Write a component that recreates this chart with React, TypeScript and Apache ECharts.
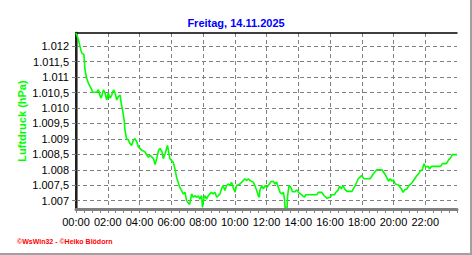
import React, { useEffect, useRef } from 'react';
import * as echarts from 'echarts';

const TITLE = 'Freitag, 14.11.2025';
const Y_NAME = 'Luftdruck (hPa)';
const FOOTER = '©WsWin32 - ©Heiko Blödorn';

// time of day in minutes
const timesMin = [
  0, 9, 18, 22, 30, 34, 40, 47, 60, 62, 78, 85, 90, 95, 104, 110, 116, 122, 129, 135,
  142, 148, 154, 160, 167, 170, 176, 182, 185, 191, 198, 204, 210, 217, 223, 230, 236, 249, 261, 268,
  274, 280, 287, 293, 299, 305, 312, 318, 325, 330, 337, 342, 346, 350, 355, 361, 367, 374, 380, 386,
  392, 399, 405, 412, 418, 427, 430, 437, 443, 449, 456, 462, 468, 475, 478, 484, 488, 493, 500, 506,
  512, 518, 525, 532, 538, 544, 550, 556, 563, 569, 575, 582, 588, 594, 601, 607, 620, 632, 638, 645,
  651, 658, 670, 676, 683, 689, 693, 695, 702, 708, 715, 721, 727, 737, 746, 752, 758, 765, 771, 778,
  784, 788, 790, 798, 800, 805, 812, 818, 828, 835, 841, 853, 863, 868, 910, 916, 929, 938, 948, 961,
  967, 977, 982, 990, 996, 1003, 1009, 1015, 1024, 1043, 1055, 1067, 1080, 1087, 1112, 1124, 1137, 1156, 1169, 1175,
  1181, 1188, 1194, 1200, 1207, 1219, 1230, 1236, 1242, 1251, 1258, 1268, 1277, 1286, 1296, 1303, 1309, 1315, 1321, 1331,
  1336, 1344, 1353, 1378, 1385, 1400, 1409, 1416, 1422, 1440,
];

// air pressure in hPa
const pressure = [
  1012.43, 1012.22, 1011.89, 1011.78, 1011.73, 1011.24, 1010.97, 1010.8, 1010.59, 1010.51, 1010.51, 1010.59, 1010.42, 1010.32, 1010.59, 1010.48, 1010.26, 1010.48, 1010.32, 1010.42,
  1010.59, 1010.48, 1010.26, 1010.37, 1010.42, 1010.2, 1009.93, 1009.61, 1009.28, 1009.01, 1008.96, 1008.85, 1008.79, 1008.96, 1009.01, 1008.9, 1008.74, 1008.63, 1008.58, 1008.47,
  1008.41, 1008.47, 1008.41, 1008.36, 1008.17, 1008.36, 1008.63, 1008.69, 1008.58, 1008.36, 1008.52, 1008.69, 1008.79, 1008.58, 1008.36, 1008.3, 1008.25, 1008.03, 1007.76, 1007.6,
  1007.43, 1007.33, 1007.22, 1007.27, 1007.0, 1006.89, 1006.89, 1007.22, 1007.11, 1007.16, 1007.11, 1007.16, 1007.05, 1007.16, 1006.78, 1007.11, 1007.16, 1007.05, 1007.16, 1007.22,
  1007.27, 1007.22, 1007.27, 1007.11, 1007.16, 1007.22, 1007.38, 1007.49, 1007.33, 1007.49, 1007.54, 1007.49, 1007.6, 1007.43, 1007.27, 1007.49, 1007.54, 1007.65, 1007.71, 1007.65,
  1007.71, 1007.65, 1007.6, 1007.49, 1007.33, 1007.16, 1007.11, 1007.33, 1007.49, 1007.38, 1007.49, 1007.43, 1007.49, 1007.62, 1007.62, 1007.54, 1007.6, 1007.43, 1007.27, 1007.22,
  1007.27, 1007.05, 1006.78, 1006.78, 1007.16, 1007.49, 1007.43, 1007.29, 1007.29, 1007.35, 1007.27, 1007.19, 1007.11, 1007.19, 1007.19, 1007.27, 1007.27, 1007.16, 1007.08, 1007.11,
  1007.19, 1007.19, 1007.27, 1007.33, 1007.47, 1007.38, 1007.49, 1007.38, 1007.3, 1007.3, 1007.49, 1007.71, 1007.82, 1007.71, 1007.71, 1007.87, 1008.0, 1008.0, 1007.84, 1007.74,
  1007.63, 1007.71, 1007.63, 1007.67, 1007.54, 1007.51, 1007.38, 1007.27, 1007.35, 1007.38, 1007.49, 1007.56, 1007.67, 1007.78, 1007.89, 1007.98, 1008.0, 1008.2, 1008.09, 1008.11,
  1008.03, 1008.11, 1008.11, 1008.11, 1008.2, 1008.2, 1008.33, 1008.39, 1008.49, 1008.49,
];

const X_MIN = 0;
const X_MAX = 1440;
const X_INTERVAL = 120;
const Y_MIN = 1006.73;
const Y_MAX = 1012.43;

const fmtY = (v: number) => {
  const r = Math.round(v * 10) / 10;
  const i = Math.floor(r);
  const d = Math.round((r - i) * 10);
  const th = Math.floor(i / 1000);
  const rest = String(i % 1000).padStart(3, '0');
  return `${th}.${rest}` + (d ? `,${d}` : '');
};

const fmtX = (v: number) => {
  const h = Math.round(v / 60);
  return `${String(h).padStart(2, '0')}:00`;
};

export default function App() {
  const ref = useRef<HTMLDivElement>(null);
  useEffect(() => {
    document.body.style.margin = '0';
    const chart = echarts.init(ref.current!, undefined, { renderer: 'svg' });
    const font = 'Arial, "Liberation Sans", sans-serif';
    const gray = '#808080';
    chart.setOption({
      animation: false,
      backgroundColor: '#ffffff',
      textStyle: { fontFamily: font },
      title: {
        text: TITLE,
        left: 'center',
        top: 12,
        textStyle: { color: '#0000ff', fontSize: 11, fontWeight: 'bold', fontFamily: font },
      },
      grid: { left: 76, right: 15, top: 33, bottom: 46, containLabel: false },
      xAxis: [
        {
          type: 'value',
          min: X_MIN,
          max: X_MAX,
          interval: X_INTERVAL,
          axisLine: { show: true, lineStyle: { color: gray, width: 3 } },
          axisTick: { show: true, length: 4, lineStyle: { color: gray, width: 1 } },
          minorTick: { show: true, splitNumber: 4, length: 4, lineStyle: { color: gray, width: 1 } },
          axisLabel: {
            formatter: fmtX,
            color: '#000',
            fontSize: 11,
            margin: 7,
            showMaxLabel: false,
            fontFamily: font,
          },
          splitLine: {
            show: true,
            showMinLine: false,
            showMaxLine: false,
            lineStyle: { color: gray, type: [4, 3], width: 1 },
          },
        },
        {
          type: 'value',
          position: 'top',
          min: X_MIN,
          max: X_MAX,
          axisLine: { show: true, lineStyle: { color: '#000', width: 1.5 } },
          axisTick: { show: false },
          axisLabel: { show: false },
          splitLine: { show: false },
        },
      ],
      yAxis: [
        {
          type: 'value',
          min: Y_MIN,
          max: Y_MAX,
          splitNumber: 11,
          axisLine: { show: true, lineStyle: { color: gray, width: 3 } },
          axisTick: { show: true, length: 4, lineStyle: { color: gray, width: 1 } },
          axisLabel: {
            formatter: fmtY,
            color: '#000',
            fontSize: 11,
            margin: 7,
            showMinLabel: false,
            showMaxLabel: false,
            fontFamily: font,
          },
          splitLine: {
            show: true,
            showMinLine: false,
            showMaxLine: false,
            lineStyle: { color: gray, type: [4, 3], width: 1 },
          },
        },
        {
          type: 'value',
          position: 'right',
          min: Y_MIN,
          max: Y_MAX,
          axisLine: { show: true, lineStyle: { color: '#000', width: 1.5 } },
          axisTick: { show: false },
          axisLabel: { show: false },
          splitLine: { show: false },
        },
      ],
      series: [
        {
          type: 'line',
          xAxisIndex: 0,
          yAxisIndex: 0,
          data: timesMin.map((t, i) => [t, pressure[i]]),
          showSymbol: false,
          symbol: 'none',
          lineStyle: { color: '#00ff00', width: 1.6 },
          z: 3,
        },
      ],
      graphic: [
        {
          type: 'text',
          x: 22,
          y: 121,
          rotation: Math.PI / 2,
          style: {
            text: Y_NAME,
            fill: '#00ff00',
            font: `bold 11px ${font}`,
            textAlign: 'center',
            textVerticalAlign: 'middle',
          },
        },
        {
          type: 'text',
          x: 17,
          y: 241,
          style: {
            text: FOOTER,
            fill: '#ff0000',
            font: `bold 7px ${font}`,
            textAlign: 'left',
            textVerticalAlign: 'middle',
          },
        },
        {
          type: 'rect',
          shape: { x: 470, y: 0, width: 2, height: 255 },
          style: { fill: '#a0a0a0' },
        },
        {
          type: 'rect',
          shape: { x: 0, y: 253, width: 472, height: 2 },
          style: { fill: '#a0a0a0' },
        },
      ],
    });
    return () => chart.dispose();
  }, []);
  return (
    <div
      ref={ref}
      style={{ position: 'absolute', left: 0, top: 0, width: 472, height: 255 }}
    />
  );
}
